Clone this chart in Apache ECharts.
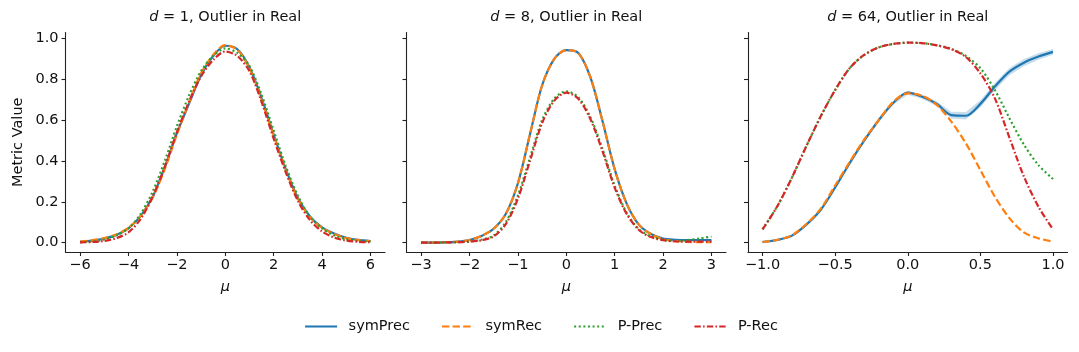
<!DOCTYPE html>
<html><head><meta charset="utf-8">
<script src="https://cdn.jsdelivr.net/npm/echarts@6/dist/echarts.min.js"></script>
<style>html,body{margin:0;padding:0;background:#fff}#c{width:1079px;height:352px}</style>
</head><body><div id="c"></div>
<script>
// ---------- data ----------
const seriesNames = ['symPrec', 'symRec', 'P-Prec', 'P-Rec'];
const panelTitles = ['1', '8', '64'];
const yTicks = [0, 0.2, 0.4, 0.6, 0.8, 1.0];
const xTicks1 = [-6, -4, -2, 0, 2, 4, 6];
const xTicks2 = [-3, -2, -1, 0, 1, 2, 3];
const xTicks3 = [-1, -0.5, 0, 0.5, 1];

const mu1 = [-6,-5.5,-5,-4.5,-4,-3.5,-3,-2.5,-2,-1.5,-1,-0.5,0,0.5,1,1.5,2,2.5,3,3.5,4,4.5,5,5.5,6];
const symPrec1 = [0.004,0.010,0.020,0.038,0.070,0.130,0.225,0.370,0.535,0.680,0.820,0.915,0.965,0.948,0.860,0.710,0.530,0.360,0.220,0.128,0.075,0.045,0.024,0.013,0.008];
const symRec1  = [0.005,0.012,0.022,0.040,0.072,0.130,0.220,0.360,0.530,0.685,0.830,0.920,0.968,0.945,0.855,0.700,0.525,0.355,0.215,0.125,0.073,0.042,0.022,0.012,0.007];
const pPrec1   = [0.002,0.006,0.015,0.035,0.070,0.140,0.250,0.400,0.570,0.720,0.840,0.915,0.952,0.930,0.865,0.725,0.550,0.375,0.230,0.127,0.070,0.035,0.016,0.008,0.006];
const pRec1    = [0.001,0.003,0.008,0.022,0.050,0.115,0.225,0.370,0.540,0.690,0.815,0.895,0.937,0.915,0.840,0.690,0.510,0.345,0.205,0.110,0.055,0.025,0.010,0.004,0.002];

const mu2 = [-3,-2.75,-2.5,-2.25,-2,-1.75,-1.5,-1.25,-1,-0.75,-0.5,-0.25,0,0.25,0.5,0.75,1,1.25,1.5,1.75,2,2.25,2.5,2.75,3];
const symPrec2 = [0.000,0.000,0.002,0.005,0.013,0.033,0.068,0.140,0.290,0.530,0.770,0.900,0.944,0.930,0.810,0.595,0.360,0.190,0.088,0.042,0.020,0.014,0.012,0.012,0.012];
const symRec2  = [0.000,0.000,0.002,0.005,0.013,0.033,0.068,0.140,0.290,0.530,0.770,0.900,0.944,0.930,0.810,0.595,0.360,0.190,0.088,0.042,0.016,0.008,0.004,0.002,0.002];
const pPrec2   = [0.000,0.000,0.001,0.002,0.005,0.014,0.035,0.100,0.230,0.415,0.600,0.705,0.742,0.712,0.615,0.458,0.280,0.145,0.066,0.030,0.014,0.008,0.012,0.020,0.030];
const pRec2    = [0.000,0.000,0.001,0.002,0.005,0.012,0.030,0.090,0.215,0.400,0.585,0.695,0.735,0.705,0.605,0.447,0.270,0.140,0.062,0.027,0.012,0.006,0.005,0.005,0.005];

const mu3 = [-1,-0.9,-0.8,-0.7,-0.6,-0.5,-0.4,-0.3,-0.2,-0.1,0,0.1,0.2,0.3,0.4,0.5,0.6,0.7,0.8,0.9,1];
const symPrec3 = [0.003,0.013,0.033,0.087,0.160,0.270,0.390,0.500,0.600,0.685,0.735,0.715,0.680,0.625,0.622,0.680,0.765,0.838,0.882,0.912,0.935];
const symPrec3Ci = [0.006,0.006,0.006,0.006,0.006,0.008,0.008,0.008,0.008,0.008,0.010,0.010,0.012,0.016,0.018,0.018,0.018,0.018,0.018,0.016,0.014];
const symRec3  = [0.003,0.013,0.035,0.090,0.165,0.280,0.395,0.505,0.600,0.690,0.732,0.720,0.675,0.593,0.487,0.356,0.225,0.120,0.050,0.021,0.005];
const pPrec3   = [0.065,0.176,0.315,0.470,0.618,0.748,0.855,0.920,0.957,0.974,0.980,0.978,0.968,0.950,0.915,0.855,0.748,0.610,0.480,0.380,0.312];
const pRec3    = [0.065,0.176,0.315,0.470,0.618,0.748,0.855,0.920,0.957,0.974,0.980,0.978,0.967,0.948,0.910,0.830,0.707,0.515,0.324,0.176,0.065];

const panels = [
  {mu: mu1, vals: [symPrec1, symRec1, pPrec1, pRec1], ticks: xTicks1, range: [-6.6, 6.6], dec: 0},
  {mu: mu2, vals: [symPrec2, symRec2, pPrec2, pRec2], ticks: xTicks2, range: [-3.3, 3.3], dec: 0},
  {mu: mu3, vals: [symPrec3, symRec3, pPrec3, pRec3], ticks: xTicks3, range: [-1.1, 1.1], dec: 1}
];

// ---------- styles ----------
const colors = ['#1f77b4', '#ff7f0e', '#2ca02c', '#d62728'];
const dashes = ['solid', [7.4, 3.2], [2, 2.6], [6.4, 2.2, 1.6, 2.2]];
const FONT = 'DejaVu Sans';
const FS = 14.5;
const TXT = '#111';
const gridLefts = [65.5, 406.5, 748];
const gridW = 319.5;
const gridTop = 32.5, gridH = 219.5;

const grids = [], xAxes = [], yAxes = [], series = [], graphics = [];
const fmtX = (dec) => (v) => (dec ? Number(v).toFixed(dec) : String(v)).replace('-', '\u2212');

panels.forEach((p, k) => {
  grids.push({left: gridLefts[k], top: gridTop, width: gridW, height: gridH, containLabel: false});
  xAxes.push({
    type: 'value', gridIndex: k, min: p.range[0], max: p.range[1],
    axisLine: {show: true, onZero: false, lineStyle: {color: '#222', width: 1.1}},
    axisTick: {show: true, length: 4, lineStyle: {color: '#222', width: 1.1}, customValues: p.ticks},
    axisLabel: {customValues: p.ticks, formatter: fmtX(p.dec), color: TXT, fontSize: FS, fontFamily: FONT, margin: 6},
    splitLine: {show: false},
    name: '\u03bc', nameLocation: 'middle', nameGap: 28,
    nameTextStyle: {fontSize: FS, fontStyle: 'italic', fontFamily: FONT, color: TXT}
  });
  yAxes.push({
    type: 'value', gridIndex: k, min: -0.046, max: 1.03,
    axisLine: {show: true, onZero: false, lineStyle: {color: '#222', width: 1.1}},
    axisTick: {show: true, length: 4, lineStyle: {color: '#222', width: 1.1}, customValues: yTicks},
    axisLabel: {show: k === 0, customValues: yTicks, formatter: (v) => Number(v).toFixed(1), color: TXT, fontSize: FS, fontFamily: FONT, margin: 7},
    splitLine: {show: false},
    name: k === 0 ? 'Metric Value' : '', nameLocation: 'middle', nameGap: 40,
    nameTextStyle: {fontSize: FS, fontFamily: FONT, color: TXT}
  });
  graphics.push({
    type: 'text', x: gridLefts[k] + gridW / 2, y: 17.5,
    style: {
      text: '{i|d} = ' + panelTitles[k] + ', Outlier in Real',
      align: 'center', verticalAlign: 'middle',
      fill: TXT, font: FS + 'px "DejaVu Sans"',
      rich: {i: {fontStyle: 'italic', fontSize: FS, fontFamily: FONT, fill: TXT}}
    }
  });
  if (k === 2) {
    series.push({
      type: 'custom', xAxisIndex: k, yAxisIndex: k, silent: true, z: 1,
      data: p.mu.map((x, i) => [x, symPrec3[i] - symPrec3Ci[i], symPrec3[i] + symPrec3Ci[i]]),
      encode: {x: 0, y: [1, 2]},
      renderItem: (params, api) => {
        if (params.dataIndex !== 0) return null;
        const pts = [];
        for (let i = 0; i < p.mu.length; i++) pts.push(api.coord([p.mu[i], symPrec3[i] + symPrec3Ci[i]]));
        for (let i = p.mu.length - 1; i >= 0; i--) pts.push(api.coord([p.mu[i], symPrec3[i] - symPrec3Ci[i]]));
        return {type: 'polygon', shape: {points: pts}, style: {fill: 'rgba(31,119,180,0.25)'}};
      }
    });
  }
  seriesNames.forEach((name, m) => {
    series.push({
      type: 'line', name: name, xAxisIndex: k, yAxisIndex: k,
      smooth: 0.3, symbol: 'none', showSymbol: false, z: 2 + m,
      lineStyle: {color: colors[m], width: 2.2, type: dashes[m], cap: 'butt'},
      itemStyle: {color: colors[m]},
      data: p.mu.map((x, i) => [x, p.vals[m][i]])
    });
  });
});

const chart = echarts.init(document.getElementById('c'), null, {renderer: 'canvas'});
chart.setOption({
  animation: false,
  backgroundColor: '#fff',
  grid: grids, xAxis: xAxes, yAxis: yAxes, series: series,
  graphic: graphics,
  legend: {
    data: seriesNames, left: 299, top: 314, padding: 5, itemWidth: 32, itemHeight: 14, itemGap: 31,
    lineStyle: {width: 2.2},
    itemStyle: {opacity: 0},
    textStyle: {fontSize: FS, fontFamily: FONT, color: TXT, padding: [0, 0, 0, 6.5]}
  }
});
</script>
</body></html>
